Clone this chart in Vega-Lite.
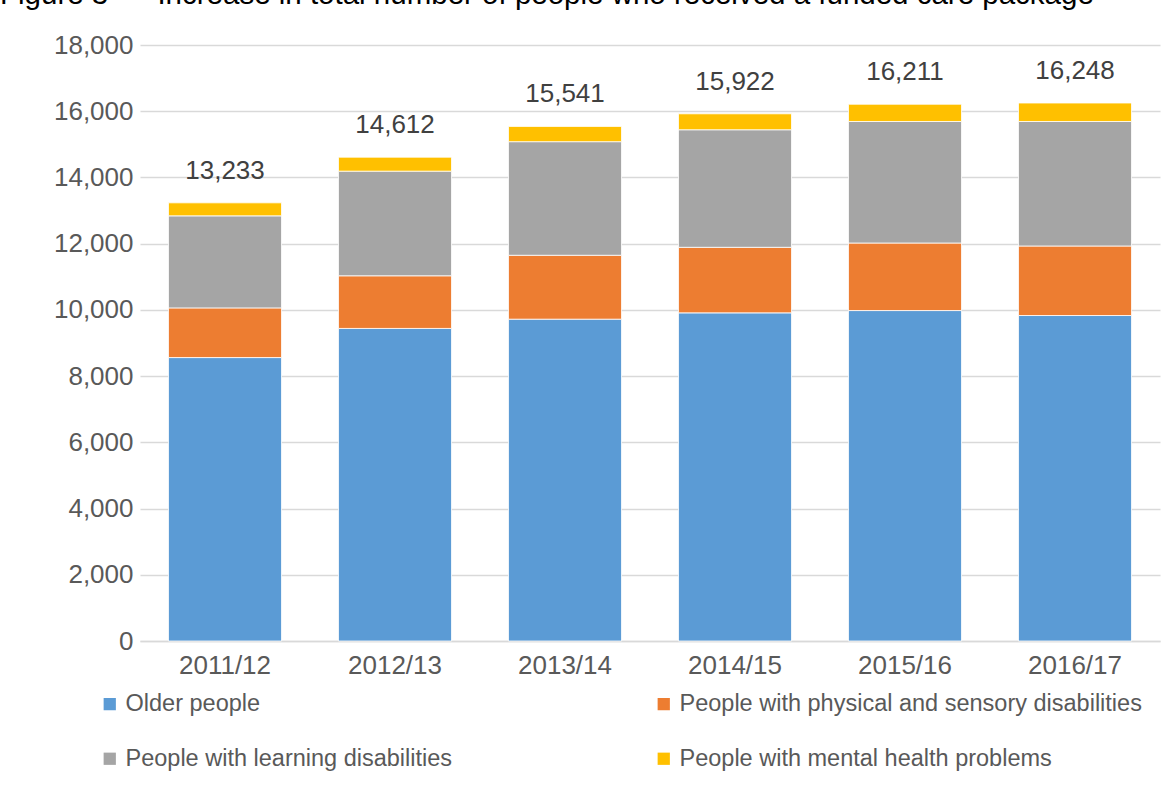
{
  "$schema": "https://vega.github.io/schema/vega-lite/v6.json",
  "width": 1020,
  "height": 596,
  "autosize": {"type": "none"},
  "padding": {"left": 140, "top": 45, "right": 16, "bottom": 154},
  "background": "white",
  "title": {
    "text": "Figure 3 –\u00a0\u00a0\u00a0Increase in total number of people who received a funded care package",
    "anchor": "start",
    "frame": "group",
    "orient": "top",
    "dx": -140,
    "dy": 1,
    "offset": 0,
    "fontSize": 29.5,
    "font": "Liberation Sans",
    "fontWeight": "normal",
    "color": "#000000",
    "baseline": "alphabetic"
  },
  "data": {
    "values": [
      {"year": "2011/12", "group": "Older people", "rank": 1, "value": 8560},
      {"year": "2011/12", "group": "People with physical and sensory disabilities", "rank": 2, "value": 1500},
      {"year": "2011/12", "group": "People with learning disabilities", "rank": 3, "value": 2780},
      {"year": "2011/12", "group": "People with mental health problems", "rank": 4, "value": 393},
      {"year": "2012/13", "group": "Older people", "rank": 1, "value": 9440},
      {"year": "2012/13", "group": "People with physical and sensory disabilities", "rank": 2, "value": 1590},
      {"year": "2012/13", "group": "People with learning disabilities", "rank": 3, "value": 3160},
      {"year": "2012/13", "group": "People with mental health problems", "rank": 4, "value": 422},
      {"year": "2013/14", "group": "Older people", "rank": 1, "value": 9720},
      {"year": "2013/14", "group": "People with physical and sensory disabilities", "rank": 2, "value": 1930},
      {"year": "2013/14", "group": "People with learning disabilities", "rank": 3, "value": 3430},
      {"year": "2013/14", "group": "People with mental health problems", "rank": 4, "value": 461},
      {"year": "2014/15", "group": "Older people", "rank": 1, "value": 9910},
      {"year": "2014/15", "group": "People with physical and sensory disabilities", "rank": 2, "value": 1980},
      {"year": "2014/15", "group": "People with learning disabilities", "rank": 3, "value": 3550},
      {"year": "2014/15", "group": "People with mental health problems", "rank": 4, "value": 482},
      {"year": "2015/16", "group": "Older people", "rank": 1, "value": 9980},
      {"year": "2015/16", "group": "People with physical and sensory disabilities", "rank": 2, "value": 2040},
      {"year": "2015/16", "group": "People with learning disabilities", "rank": 3, "value": 3670},
      {"year": "2015/16", "group": "People with mental health problems", "rank": 4, "value": 521},
      {"year": "2016/17", "group": "Older people", "rank": 1, "value": 9830},
      {"year": "2016/17", "group": "People with physical and sensory disabilities", "rank": 2, "value": 2100},
      {"year": "2016/17", "group": "People with learning disabilities", "rank": 3, "value": 3760},
      {"year": "2016/17", "group": "People with mental health problems", "rank": 4, "value": 558}
    ]
  },
  "encoding": {
    "x": {
      "field": "year",
      "type": "nominal",
      "scale": {"paddingInner": 0.335, "paddingOuter": 0.1675},
      "axis": {
        "title": null,
        "labelAngle": 0,
        "labelFontSize": 26,
        "labelFont": "Liberation Sans",
        "labelColor": "#595959",
        "labelPadding": 11,
        "ticks": false,
        "domainColor": "#d9d9d9",
        "domainWidth": 1.5
      }
    },
    "y": {
      "field": "value",
      "type": "quantitative",
      "aggregate": "sum",
      "scale": {"domain": [0, 18000], "nice": false},
      "axis": {
        "title": null,
        "values": [0, 2000, 4000, 6000, 8000, 10000, 12000, 14000, 16000, 18000],
        "format": ",d",
        "labelFontSize": 26,
        "labelFont": "Liberation Sans",
        "labelColor": "#595959",
        "labelPadding": 7,
        "ticks": false,
        "domain": false,
        "gridColor": "#d9d9d9",
        "gridWidth": 1.5
      }
    }
  },
  "layer": [
    {
      "mark": {"type": "bar", "stroke": "#ffffff", "strokeWidth": 0.8},
      "encoding": {
        "y": {
          "field": "value",
          "type": "quantitative",
          "aggregate": "sum",
          "stack": "zero"
        },
        "color": {
          "field": "group",
          "type": "nominal",
          "scale": {
            "domain": ["Older people", "People with physical and sensory disabilities", "People with learning disabilities", "People with mental health problems"],
            "range": ["#5B9BD5", "#ED7D31", "#A5A5A5", "#FFC000"]
          },
          "legend": {
            "title": null,
            "orient": "none",
            "legendX": -42,
            "legendY": 647,
            "direction": "horizontal",
            "columns": 2,
            "columnPadding": 199,
            "rowPadding": 30,
            "symbolType": "square",
            "symbolSize": 150,
            "symbolStrokeWidth": 0,
            "symbolOffset": 0,
            "labelOffset": 4,
            "labelFontSize": 23.5,
            "labelFont": "Liberation Sans",
            "labelColor": "#595959",
            "labelLimit": 600
          }
        },
        "order": {"field": "rank", "type": "quantitative", "sort": "ascending"}
      }
    },
    {
      "mark": {"type": "text", "baseline": "alphabetic", "dy": -24, "fontSize": 26, "font": "Liberation Sans", "color": "#404040"},
      "encoding": {
        "text": {"field": "value", "type": "quantitative", "aggregate": "sum", "format": ","}
      }
    }
  ],
  "config": {
    "view": {"stroke": null}
  }
}
